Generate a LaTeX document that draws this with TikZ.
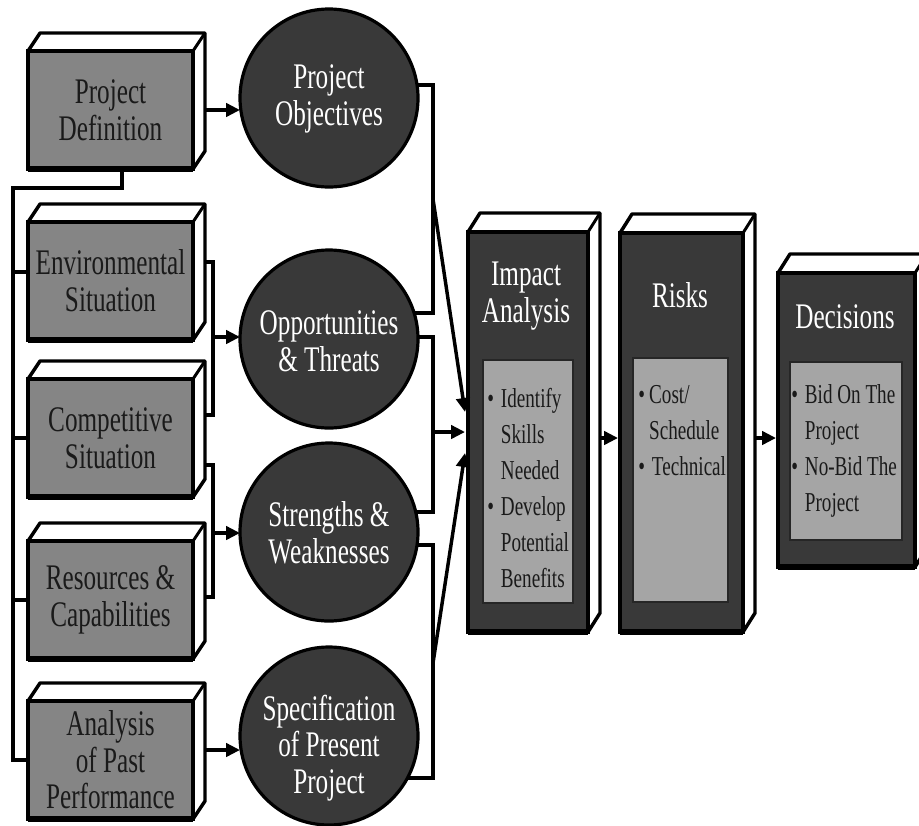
\documentclass[tikz,border=0pt]{standalone}
\usepackage{fontspec}
\setmainfont[FakeStretch=0.7]{Liberation Serif}
\usetikzlibrary{arrows.meta,calc,shapes.geometric}
\pgfdeclarelayer{back}
\pgfsetlayers{back,main}
\definecolor{midgray}{HTML}{858585}
\definecolor{darkfill}{HTML}{393939}
\definecolor{lightfill}{HTML}{A5A5A5}
\definecolor{inkc}{HTML}{1A1A1A}
\newcommand{\pxu}{0.75pt}
\newcommand{\bigtext}{\fontsize{27}{27.5}\selectfont}
\newcommand{\smalltext}{\fontsize{20.5}{27}\selectfont}
\newcommand{\bul}{\makebox[0.5em][l]{\textbullet}}
\newcommand{\ind}{\hspace*{0.5em}}
\tikzset{
  ln/.style={line width=2.6pt, draw=black},
  arr/.style={ln, -{Triangle[length=10.5pt,width=10pt]}},
  leftbox/.style={draw=black, line width=2.4pt, fill=midgray, inner sep=0pt, outer sep=0pt,
    minimum width=165*\pxu, minimum height=118*\pxu, align=center, text=inkc, font=\bigtext},
  oval/.style={ellipse, draw=black, line width=2.4pt, fill=darkfill, minimum width=178*\pxu,
    minimum height=178*\pxu, inner sep=0pt, outer sep=0pt},
  ovtext/.style={text=white, font=\bigtext, align=center, inner sep=0pt},
  rightbox/.style={draw=black, line width=2.4pt, fill=darkfill, inner sep=0pt, outer sep=0pt},
  innerbox/.style={draw=black!85, line width=1.8pt, fill=lightfill, inner sep=0pt, outer sep=0pt},
  face/.style={fill=white, draw=black, line width=2.6pt, line join=round},
  ttl/.style={text=white, font=\bigtext, align=center, inner sep=0pt},
  lst/.style={text=inkc, font=\smalltext, align=left, anchor=north west, inner sep=0pt},
}
% left 3D box: name, x, y, text
\newcommand{\lbx}[4]{%
  \node[leftbox] (#1) at (#2,#3) {#4};
  \begin{pgfonlayer}{back}
    \draw[face] (#1.south west) -- (#1.north west) -- ++(12,-18)
      -- ([shift={(12,-18)}]#1.north east) -- ([shift={(12,-18)}]#1.south east)
      -- (#1.south east) -- cycle;
  \end{pgfonlayer}
  \draw[line width=2.2pt] (#1.north east) -- ++(12,-18);
  \draw[line width=4.5pt] (#1.south west) -- (#1.south east);
  \coordinate (#1R) at ([xshift=12*\pxu]#1.east);
}
% right 3D box: name, x, y, width, height
\newcommand{\rbx}[5]{%
  \node[rightbox, minimum width=#4*\pxu, minimum height=#5*\pxu] (#1) at (#2,#3) {};
  \begin{pgfonlayer}{back}
    \draw[face] (#1.south west) -- (#1.north west) -- ++(12,-19)
      -- ([shift={(12,-19)}]#1.north east) -- ([shift={(12,-19)}]#1.south east)
      -- (#1.south east) -- cycle;
  \end{pgfonlayer}
  \draw[line width=2.2pt] (#1.north east) -- ++(12,-19);
  \draw[line width=5pt] (#1.south west) -- (#1.south east);
  \coordinate (#1R) at ([xshift=12*\pxu]#1.east);
  \coordinate (#1L) at ([xshift=-2*\pxu]#1.west);
}
\begin{document}
\begin{tikzpicture}[x=0.75pt,y=-0.75pt]
\path[use as bounding box, clip] (0,0) rectangle (919,825);

% left boxes
\lbx{PD}{110.5}{110}{Project\\Definition}
\lbx{Env}{110.5}{281}{Environmental\\Situation}
\lbx{Comp}{110.5}{438}{Competitive\\Situation}
\lbx{Res}{110.5}{600}{Resources \&\\Capabilities}
\lbx{Anal}{110.5}{760}{Analysis\\of Past\\Performance}

% ellipses
\node[oval] (PO) at (329,98) {};
\node[oval] (OT) at (329,339) {};
\node[oval] (SW) at (329,532) {};
\node[oval] (SP) at (329,736) {};
\node[ovtext] (POt) at (329,99) {Project\\Objectives};
\node[ovtext] (OTt) at (329,341) {Opportunities\\\& Threats};
\node[ovtext] (SWt) at (329,533) {Strengths \&\\Weaknesses};
\node[ovtext] (SPt) at (329,748) {Specification\\of Present\\Project};

% right boxes
\rbx{IA}{528}{432}{120}{400}
\rbx{RK}{681.5}{432.5}{123}{399}
\rbx{DC}{846.5}{420}{137}{294}
\node[innerbox, minimum width=90*\pxu, minimum height=243*\pxu] (IAin) at (528,481.5) {};
\node[innerbox, minimum width=95*\pxu, minimum height=244*\pxu] (RKin) at (680.5,480) {};
\node[innerbox, minimum width=112*\pxu, minimum height=178*\pxu] (DCin) at (846,451) {};
\node[ttl] (IAt) at (526,296) {Impact\\Analysis};
\node[ttl] (RKt) at (680,295) {Risks};
\node[ttl] (DCt) at (845,317) {Decisions};
\node[lst] (IAl) at (487,388) {\bul Identify\\\ind Skills\\\ind Needed\\\bul Develop\\\ind Potential\\\ind Benefits};
\node[lst] (RKl) at (638,385) {\makebox[0.4em][l]{\textbullet}Cost/\\\hspace*{0.4em}Schedule\\\bul Technical};
\node[lst] (DCl) at (791,384) {\bul Bid On The\\\ind Project\\\bul No-Bid The\\\ind Project};

% ---- connectors ----
\coordinate (b0) at (122,188);
\coordinate (bL) at (13,188);
\coordinate (sE) at (13,272);
\draw[ln] (PD.south -| b0) -- (b0) -- (bL) -- (bL |- Anal.west) -- (Anal.west);
\draw[ln] (sE) -- (Env.west |- sE);
\draw[ln] (bL |- Comp.west) -- (Comp.west);
\draw[ln] (bL |- Res.west) -- (Res.west);

\draw[arr] (PDR) -- (PO.west |- PDR);

\coordinate (k1) at (213,262);
\coordinate (k2) at (213,415);
\coordinate (k3) at (213,337);
\draw[ln] (EnvR |- k1) -- (k1) -- (k2) -- (CompR |- k2);
\draw[arr] (k3) -- (OT.west |- k3);

\coordinate (k4) at (213,465);
\coordinate (k5) at (213,597);
\coordinate (k6) at (213,533);
\draw[ln] (CompR |- k4) -- (k4) -- (k5) -- (ResR |- k5);
\draw[arr] (k6) -- (SW.west |- k6);

\coordinate (a5) at (205,750);
\draw[arr] (AnalR |- a5) -- (SP.west |- a5);

\coordinate (IL) at ([xshift=-3*\pxu]IA.west);
\coordinate (r1) at (433,85);
\coordinate (r2) at (433,313);
\coordinate (r12) at (433,199);
\coordinate (t1) at (465,412);
\coordinate (r3) at (433,337);
\coordinate (r4) at (433,512);
\coordinate (r34) at (433,432);
\coordinate (r5) at (433,545);
\coordinate (r6) at (433,778);
\coordinate (r56) at (433,663);
\coordinate (t3) at (465,453);
\begin{pgfonlayer}{back}
\draw[ln] (PO.center |- r1) -- (r1) -- (r2) -- (OT.center |- r2);
\draw[ln] (OT.center |- r3) -- (r3) -- (r4) -- (SW.center |- r4);
\draw[ln] (SW.center |- r5) -- (r5) -- (r6) -- (SP.center |- r6);
\end{pgfonlayer}
\draw[arr] (r12) -- (IL |- t1);
\draw[arr] (r34) -- (IL |- r34);
\draw[arr] (r56) -- (IL |- t3);

\coordinate (m1) at (600,438);
\draw[arr] (IAR |- m1) -- (RKL |- m1);
\draw[arr] (RKR |- m1) -- (DCL |- m1);
\end{tikzpicture}
\end{document}
